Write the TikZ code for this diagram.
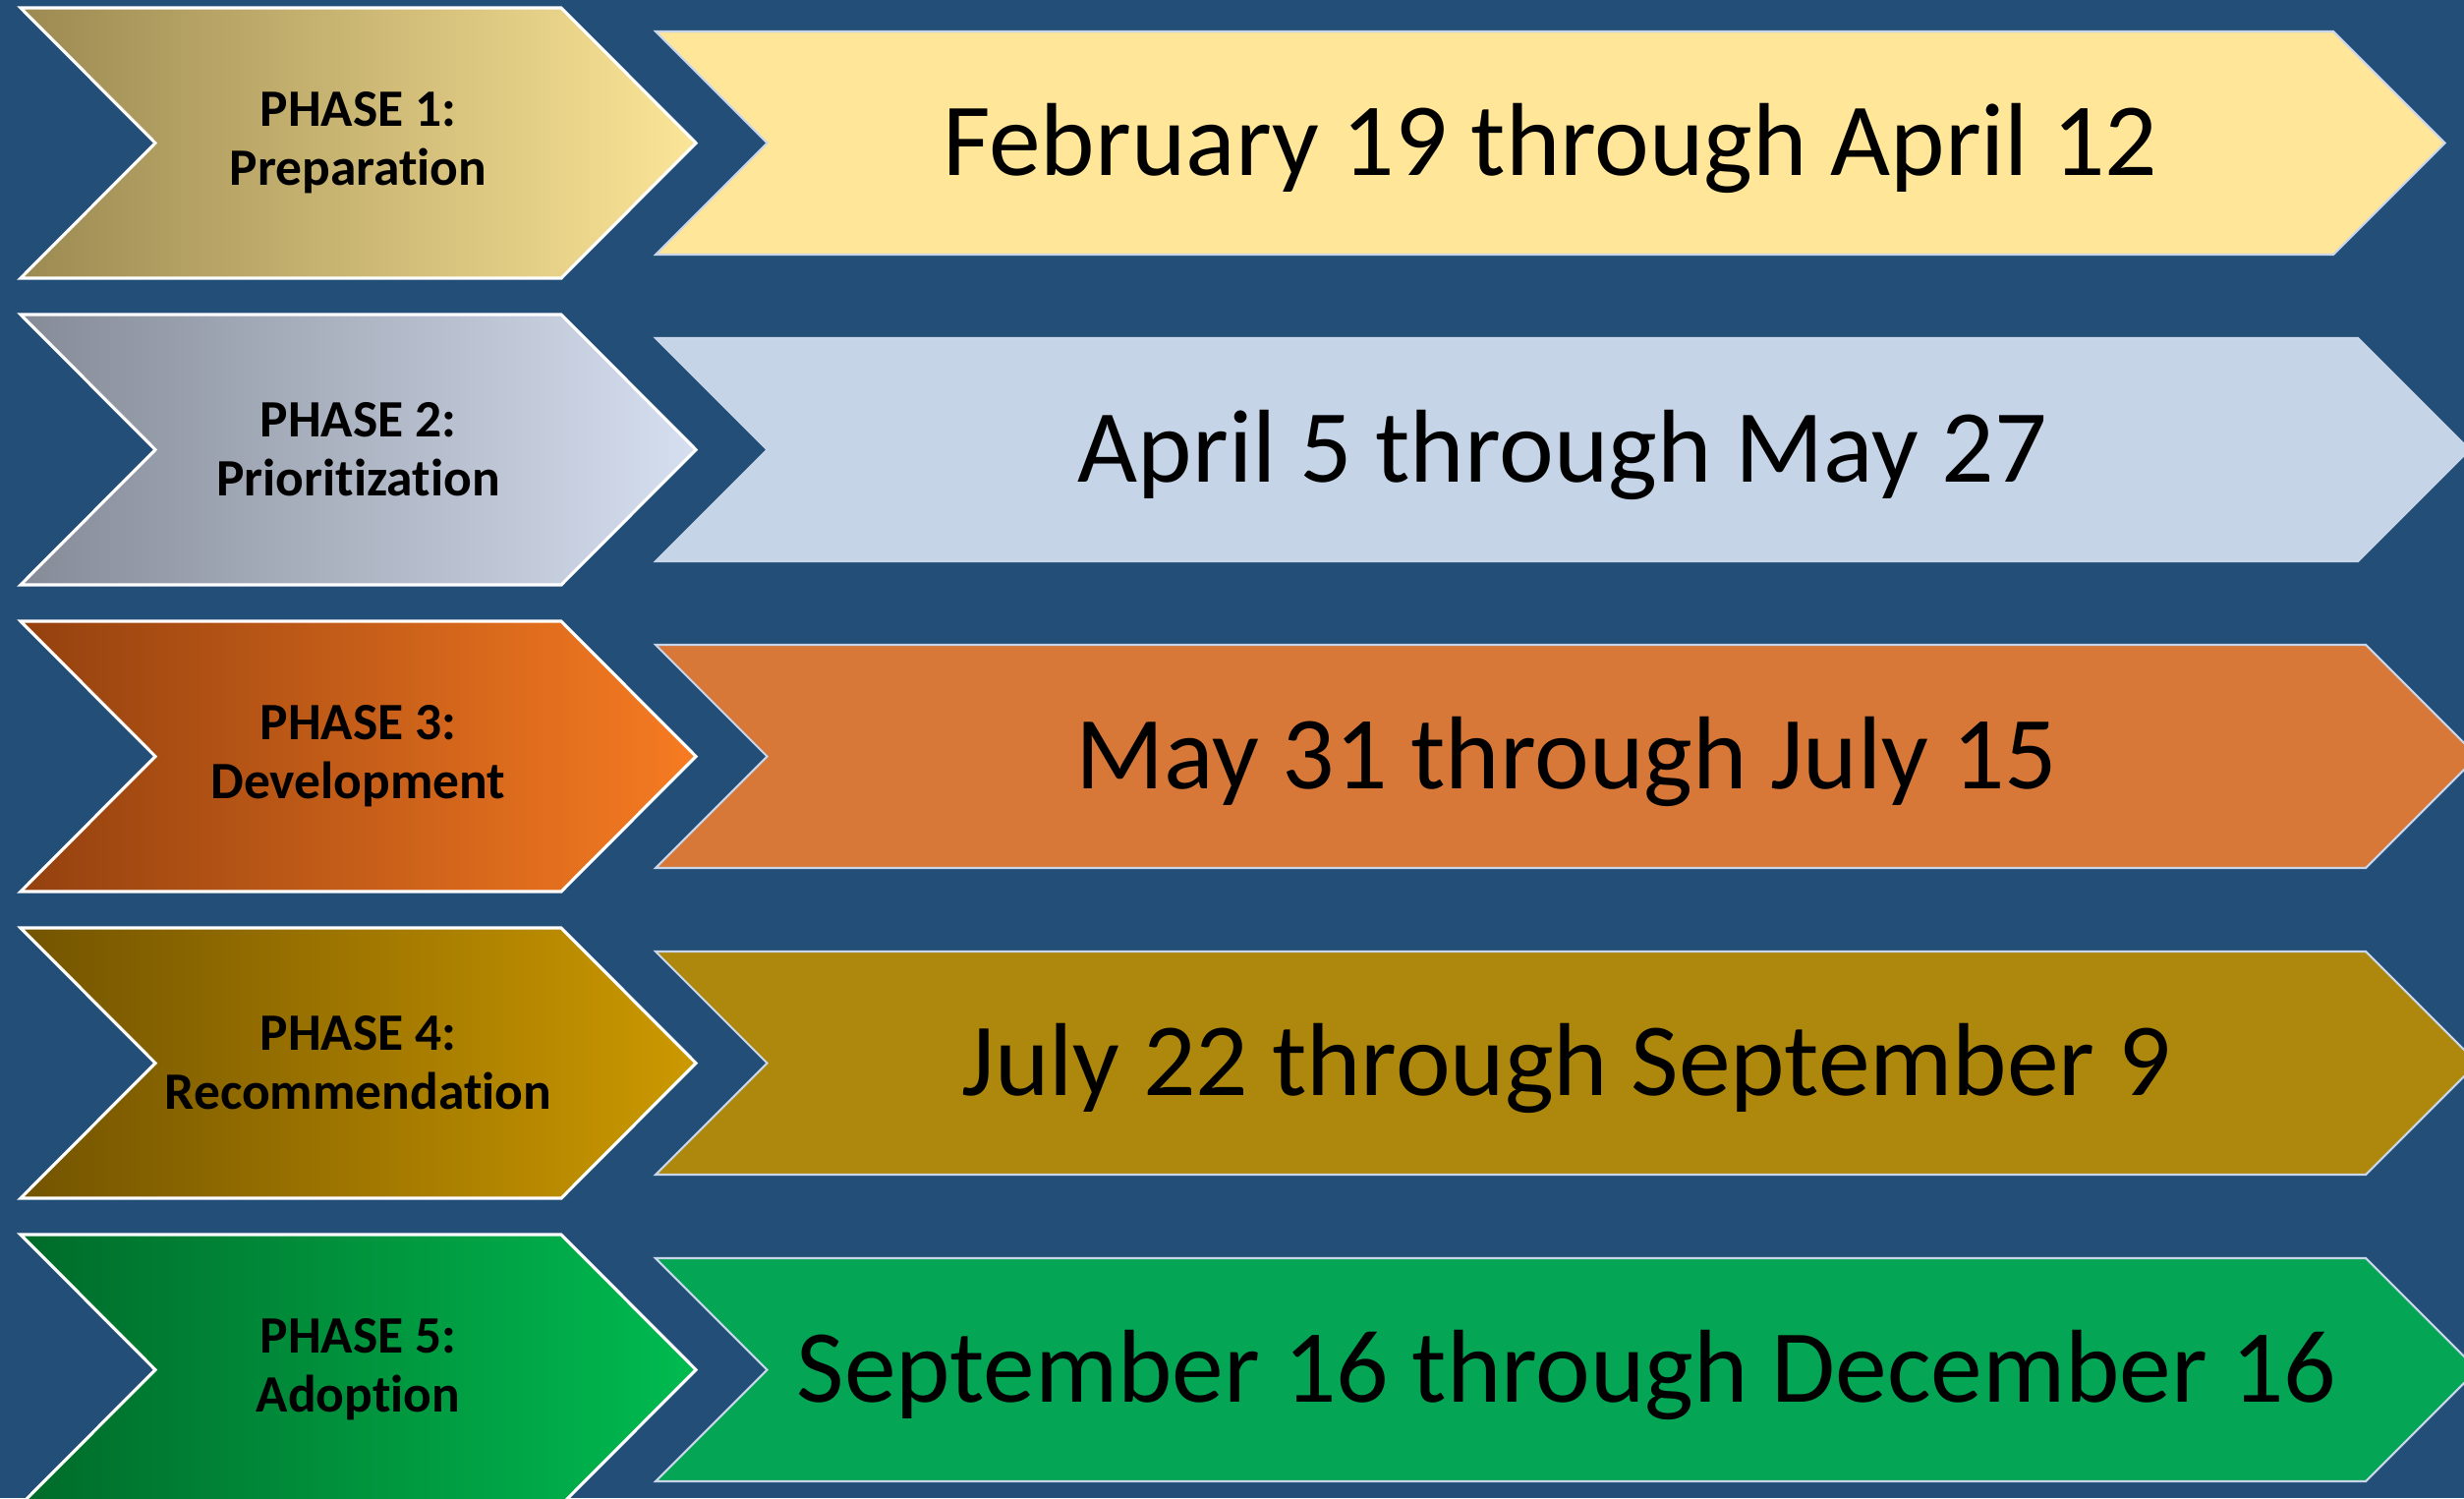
\documentclass[tikz,border=0pt]{standalone}
\usepackage{fontspec}
\setmainfont{Carlito}[Ligatures=NoCommon]
\usetikzlibrary{shadings}
\definecolor{navy}{HTML}{224E78}
\definecolor{rim}{HTML}{C9D6EA}
\definecolor{goldL}{HTML}{9C8A52}
\definecolor{goldR}{HTML}{FBE597}
\definecolor{goldD}{HTML}{FFE699}
\definecolor{slateL}{HTML}{858B97}
\definecolor{slateR}{HTML}{D6DFF0}
\definecolor{slateD}{HTML}{C6D4E8}
\definecolor{rustL}{HTML}{94410F}
\definecolor{rustR}{HTML}{F77B22}
\definecolor{rustD}{HTML}{D77838}
\definecolor{ochreL}{HTML}{735400}
\definecolor{ochreR}{HTML}{CC9900}
\definecolor{ochreD}{HTML}{AE880C}
\definecolor{leafL}{HTML}{006B2A}
\definecolor{leafR}{HTML}{00BB50}
\definecolor{leafD}{HTML}{04A555}
\tikzset{
    phasebox/.style={draw=white, line width=0.9pt},
    periodbox/.style={draw=rim, line width=0.6pt},
    phasetext/.style={align=center, text=black, font=\fontsize{15.2}{17}\selectfont\bfseries},
    periodtext/.style={text=black, yshift=-1.5pt, font=\fontsize{30}{36}\selectfont}
}

\begin{document}
\begin{tikzpicture}[x=0.01cm, y=-0.01cm]
    \useasboundingbox (0,0) rectangle (2507,1524);
    \fill[navy] (0,0) rectangle (2507,1524);
    \clip (0,0) rectangle (2507,1524);
    % one row per phase: chevron on the left, dated arrow on the right
    \foreach \n/\lc/\rc/\fc/\xr/\title/\dates in {
        1/goldL/goldR/goldD/2374/Preparation/February 19 through April 12,
        2/slateL/slateR/slateD/2399/Prioritization/April 5 through May 27,
        3/rustL/rustR/rustD/2407/Development/May 31 through July 15,
        4/ochreL/ochreR/ochreD/2407/Recommendation/July 22 through September 9,
        5/leafL/leafR/leafD/2407/Adoption/September 16 through December 16}{
        \pgfmathsetmacro{\ym}{145.5+312*(\n-1)}
        \pgfmathsetmacro{\xm}{(780.5+\xr)/2}
        \path[phasebox, left color=\lc, right color=\rc]
            (21,{\ym-137.5}) -- (571,{\ym-137.5}) -- (708,\ym) -- (571,{\ym+137.5})
            -- (21,{\ym+137.5}) -- (158,\ym) -- cycle;
        \path[periodbox, fill=\fc]
            (667,{\ym-113.5}) -- (\xr,{\ym-113.5}) -- ({\xr+113.5},\ym) -- (\xr,{\ym+113.5})
            -- (667,{\ym+113.5}) -- (780.5,\ym) -- cycle;
        \node[phasetext]  (phase\n)  at (364.5,\ym) {PHASE \n:\\\title};
        \node[periodtext] (period\n) at (\xm,\ym)   {\dates};
    }
\end{tikzpicture}
\end{document}
